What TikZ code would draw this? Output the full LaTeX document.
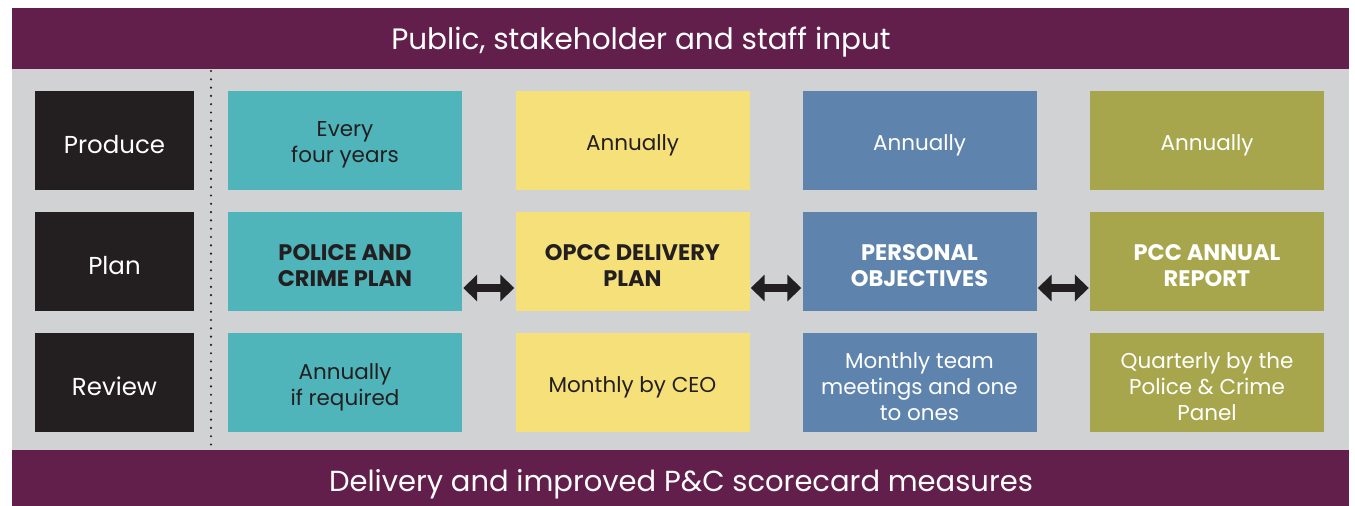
\documentclass[tikz,border=0pt]{standalone}
\usepackage{fontspec}
\setmainfont{Poppins}
\usetikzlibrary{arrows.meta}
\definecolor{plum}{HTML}{621F4B}
\definecolor{panel}{HTML}{D1D2D4}
\definecolor{ink}{HTML}{231F20}
\definecolor{teal}{HTML}{4FB5BB}
\definecolor{sun}{HTML}{F5E07A}
\definecolor{steel}{HTML}{5E84AE}
\definecolor{olive}{HTML}{A7A64C}
\tikzset{
  cell/.style={rectangle, inner sep=0pt, minimum width=234pt, minimum height=99pt},
  txt/.style={inner sep=0pt, align=center, font=\fontsize{21.5}{26}\selectfont},
  rowbox/.style={rectangle, fill=ink, inner sep=0pt, minimum width=159pt, minimum height=99pt},
  rowtxt/.style={text=white, inner sep=0pt, font=\fontsize{24.5}{28}\selectfont},
  title/.style={text=white, inner sep=0pt, font=\fontsize{29.5}{34}\selectfont},
  strong/.style={font=\fontsize{22.5}{26}\selectfont\bfseries},
  link/.style={ink, line width=8pt, {Triangle[length=14pt,width=26pt]}-{Triangle[length=14pt,width=26pt]}},
}
\begin{document}
\begin{tikzpicture}[x=1pt,y=-1pt]
\useasboundingbox (0,0) rectangle (1355,506);
\fill[white] (0,0) rectangle (1355,506);
\fill[panel] (12,69) rectangle (1349,450);
\fill[plum] (12,8) rectangle (1349,69);
\fill[plum] (12,450) rectangle (1349,506);
\node[title] (top) at (641,42) {Public, stakeholder and staff input};
\node[title, font=\fontsize{29}{34}\selectfont] (bottom) at (681,484) {Delivery and improved P\&C scorecard measures};
\draw[ink, line width=2.4pt, line cap=round, dash pattern=on 0pt off 8.3pt] (211,71) -- (211,450);
% row labels
\node[rowbox] (produce) at (114.5,140.5) {};
\node[rowbox] (plan) at (114.5,261.5) {};
\node[rowbox] (review) at (114.5,382.5) {};
\node[rowtxt] (produce-t) at ([yshift=-4pt]produce.center) {Produce};
\node[rowtxt] (plan-t) at ([yshift=-4pt]plan.center) {Plan};
\node[rowtxt] (review-t) at ([yshift=-4pt]review.center) {Review};
% boxes
\node[cell, fill=teal] (c1a) at (345,140.5) {};
\node[cell, fill=teal] (c1b) at (345,261.5) {};
\node[cell, fill=teal] (c1c) at (345,382.5) {};
\node[cell, fill=sun] (c2a) at (632.5,140.5) {};
\node[cell, fill=sun] (c2b) at (632.5,261.5) {};
\node[cell, fill=sun] (c2c) at (632.5,382.5) {};
\node[cell, fill=steel] (c3a) at (919.5,140.5) {};
\node[cell, fill=steel] (c3b) at (919.5,261.5) {};
\node[cell, fill=steel] (c3c) at (919.5,382.5) {};
\node[cell, fill=olive] (c4a) at (1207,140.5) {};
\node[cell, fill=olive] (c4b) at (1207,261.5) {};
\node[cell, fill=olive] (c4c) at (1207,382.5) {};
% texts
\node[txt, text=ink] (c1a-t) at ([yshift=-4.5pt]c1a.center) {Every\\four years};
\node[txt, text=ink, strong] (c1b-t) at ([yshift=-4pt]c1b.center) {POLICE AND\\CRIME PLAN};
\node[txt, text=ink] (c1c-t) at ([yshift=-4.5pt]c1c.center) {Annually\\if required};
\node[txt, text=ink] (c2a-t) at ([yshift=-4.5pt]c2a.center) {Annually};
\node[txt, text=ink, strong] (c2b-t) at ([yshift=-4pt]c2b.center) {OPCC DELIVERY\\PLAN};
\node[txt, text=ink] (c2c-t) at ([yshift=-4.5pt]c2c.center) {Monthly by CEO};
\node[txt, text=white] (c3a-t) at ([yshift=-4.5pt]c3a.center) {Annually};
\node[txt, text=white, strong] (c3b-t) at ([yshift=-4pt]c3b.center) {PERSONAL\\OBJECTIVES};
\node[txt, text=white] (c3c-t) at ([yshift=-4.5pt]c3c.center) {Monthly team\\meetings and one\\to ones};
\node[txt, text=white] (c4a-t) at ([yshift=-4.5pt]c4a.center) {Annually};
\node[txt, text=white, strong] (c4b-t) at ([yshift=-4pt]c4b.center) {PCC ANNUAL\\REPORT};
\node[txt, text=white] (c4c-t) at ([yshift=-4.5pt]c4c.center) {Quarterly by the\\Police \& Crime\\Panel};
% arrows
\draw[link] ([yshift=-26.5pt,xshift=1pt]c1b.east) -- ([yshift=-26.5pt,xshift=-1pt]c2b.west);
\draw[link] ([yshift=-26.5pt,xshift=1pt]c2b.east) -- ([yshift=-26.5pt,xshift=-1pt]c3b.west);
\draw[link] ([yshift=-26.5pt,xshift=1pt]c3b.east) -- ([yshift=-26.5pt,xshift=-1pt]c4b.west);
\end{tikzpicture}
\end{document}
